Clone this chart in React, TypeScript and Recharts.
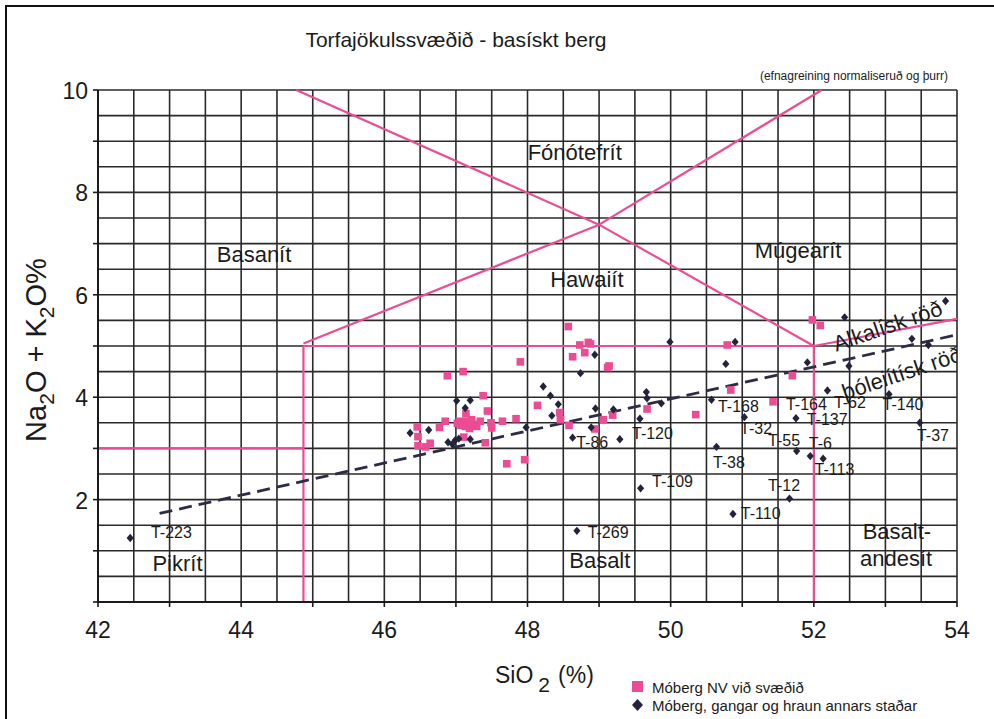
import React from 'react';
import { ScatterChart, Scatter, XAxis, YAxis, CartesianGrid, ReferenceLine } from 'recharts';

// ---------- axis ticks ----------
const xGridTicks = [42, 42.5, 43, 43.5, 44, 44.5, 45, 45.5, 46, 46.5, 47, 47.5, 48, 48.5, 49, 49.5, 50, 50.5, 51, 51.5, 52, 52.5, 53, 53.5, 54];
const yGridTicks = [0, 0.5, 1, 1.5, 2, 2.5, 3, 3.5, 4, 4.5, 5, 5.5, 6, 6.5, 7, 7.5, 8, 8.5, 9, 9.5, 10];
const xTickLabels = [42, 44, 46, 48, 50, 52, 54];
const yTickLabels = [2, 4, 6, 8, 10];

// ---------- series: Móberg NV við svæðið (pink squares) ----------
const mobergNV = [
  { x: 48.57, y: 5.38 }, { x: 47.90, y: 4.69 }, { x: 46.88, y: 4.42 }, { x: 47.10, y: 4.50 },
  { x: 47.38, y: 4.03 }, { x: 47.44, y: 3.73 }, { x: 47.14, y: 3.68 }, { x: 46.85, y: 3.53 },
  { x: 46.77, y: 3.41 }, { x: 46.46, y: 3.42 }, { x: 46.47, y: 3.23 }, { x: 46.47, y: 3.05 },
  { x: 46.64, y: 3.10 }, { x: 46.58, y: 3.03 }, { x: 47.02, y: 3.49 }, { x: 47.07, y: 3.45 },
  { x: 47.13, y: 3.43 }, { x: 47.19, y: 3.39 }, { x: 47.24, y: 3.47 }, { x: 47.29, y: 3.43 },
  { x: 47.34, y: 3.53 }, { x: 47.22, y: 3.56 }, { x: 47.05, y: 3.53 }, { x: 47.15, y: 3.53 },
  { x: 47.49, y: 3.50 }, { x: 47.50, y: 3.40 }, { x: 47.65, y: 3.53 }, { x: 47.84, y: 3.58 },
  { x: 47.11, y: 3.22 }, { x: 47.41, y: 3.11 }, { x: 47.71, y: 2.70 }, { x: 47.96, y: 2.78 },
  { x: 48.14, y: 3.84 }, { x: 48.45, y: 3.70 }, { x: 48.46, y: 3.56 }, { x: 48.58, y: 3.45 },
  { x: 48.73, y: 5.02 }, { x: 48.85, y: 5.07 }, { x: 48.88, y: 5.04 }, { x: 48.63, y: 4.79 },
  { x: 48.80, y: 4.87 }, { x: 49.12, y: 4.58 }, { x: 49.14, y: 4.61 }, { x: 48.94, y: 3.38 },
  { x: 49.06, y: 3.56 }, { x: 49.19, y: 3.65 }, { x: 49.67, y: 3.77 }, { x: 50.35, y: 3.66 },
  { x: 50.79, y: 5.02 }, { x: 50.84, y: 4.14 }, { x: 51.43, y: 3.91 }, { x: 51.70, y: 4.42 },
  { x: 51.98, y: 5.51 }, { x: 52.09, y: 5.40 },
];

// ---------- series: Móberg, gangar og hraun annars staðar (dark diamonds) ----------
const mobergOther = [
  { x: 42.45, y: 1.25 }, { x: 48.69, y: 1.39 }, { x: 46.36, y: 3.30 }, { x: 46.62, y: 3.36 },
  { x: 46.89, y: 3.12 }, { x: 46.95, y: 3.08 }, { x: 46.99, y: 3.16 }, { x: 47.04, y: 3.19 },
  { x: 47.01, y: 3.93 }, { x: 47.20, y: 3.94 }, { x: 47.13, y: 3.79 }, { x: 47.20, y: 3.18 },
  { x: 47.98, y: 3.41 }, { x: 48.22, y: 4.21 }, { x: 48.32, y: 4.03 }, { x: 48.43, y: 3.86 },
  { x: 48.34, y: 3.64 }, { x: 48.63, y: 3.21 }, { x: 48.89, y: 3.41 }, { x: 48.95, y: 3.78 },
  { x: 48.94, y: 4.83 }, { x: 48.74, y: 4.47 }, { x: 49.20, y: 3.76 }, { x: 49.29, y: 3.18 },
  { x: 49.57, y: 3.58 }, { x: 49.66, y: 4.10 }, { x: 49.67, y: 3.98 }, { x: 49.87, y: 3.88 },
  { x: 49.99, y: 5.08 }, { x: 49.58, y: 2.22 }, { x: 50.57, y: 3.95 }, { x: 50.64, y: 3.03 },
  { x: 50.77, y: 4.65 }, { x: 50.90, y: 5.08 }, { x: 51.03, y: 3.61 }, { x: 50.87, y: 1.72 },
  { x: 51.66, y: 2.02 }, { x: 51.75, y: 3.59 }, { x: 51.76, y: 2.95 }, { x: 51.95, y: 2.85 },
  { x: 52.13, y: 2.80 }, { x: 51.91, y: 4.68 }, { x: 52.19, y: 4.13 }, { x: 52.43, y: 5.56 },
  { x: 52.49, y: 4.61 }, { x: 53.05, y: 4.06 }, { x: 53.48, y: 3.50 }, { x: 53.37, y: 5.14 },
  { x: 53.60, y: 5.02 }, { x: 53.84, y: 5.88 },
];

// ---------- sample labels ----------
const sampleLabels = [
  { x: 42.74, y: 1.35, text: 'T-223' }, { x: 48.84, y: 1.35, text: 'T-269' },
  { x: 48.68, y: 3.11, text: 'T-86' }, { x: 49.46, y: 3.30, text: 'T-120' },
  { x: 49.74, y: 2.36, text: 'T-109' }, { x: 50.66, y: 3.81, text: 'T-168' },
  { x: 50.97, y: 3.38, text: 'T-32' }, { x: 50.59, y: 2.73, text: 'T-38' },
  { x: 51.61, y: 3.85, text: 'T-164' }, { x: 52.28, y: 3.89, text: 'T-62' },
  { x: 52.96, y: 3.85, text: 'T-140' }, { x: 51.90, y: 3.57, text: 'T-137' },
  { x: 51.36, y: 3.16, text: 'T-55' }, { x: 51.93, y: 3.09, text: 'T-6' },
  { x: 52.01, y: 2.58, text: 'T-113' }, { x: 51.36, y: 2.27, text: 'T-12' },
  { x: 50.98, y: 1.72, text: 'T-110' }, { x: 53.44, y: 3.26, text: 'T-37' },
];

// ---------- rock-field names ----------
const fieldNames = [
  { x: 48.66, y: 8.77, text: 'Fónótefrít' }, { x: 48.83, y: 6.29, text: 'Hawaiít' },
  { x: 44.18, y: 6.78, text: 'Basanít' }, { x: 51.78, y: 6.87, text: 'Múgearít' },
  { x: 43.11, y: 0.76, text: 'Pikrít' }, { x: 49.01, y: 0.82, text: 'Basalt' },
  { x: 53.16, y: 1.37, text: 'Basalt-' }, { x: 53.15, y: 0.84, text: 'andesít' },
];
const seriesNames = [
  { x: 53.03, y: 5.39, text: 'Alkalísk röð' },
  { x: 53.23, y: 4.47, text: 'þóleiítísk röð' },
];
const seriesNameAngles = [-19, -18.5];

// ---------- classification boundaries ----------
const boundaryLines = [
  [{ x: 42, y: 3 }, { x: 44.87, y: 3 }],
  [{ x: 44.87, y: 0 }, { x: 44.87, y: 5.0 }],
  [{ x: 44.87, y: 5.0 }, { x: 52, y: 5.0 }],
  [{ x: 52, y: 0 }, { x: 52, y: 5.0 }],
  [{ x: 52, y: 5.0 }, { x: 54, y: 5.53 }],
  [{ x: 44.87, y: 5.05 }, { x: 49.0, y: 7.37 }],
  [{ x: 49.0, y: 7.37 }, { x: 52.11, y: 10 }],
  [{ x: 44.77, y: 10 }, { x: 49.0, y: 7.37 }],
  [{ x: 49.0, y: 7.37 }, { x: 52, y: 5.0 }],
];
const seriesDivider = [{ x: 42.86, y: 1.73 }, { x: 54, y: 5.22 }];

const FONT = '"Liberation Sans", Arial, Helvetica, sans-serif';
const PINK = '#ec4c93';
const INK = '#1b1b1b';
const NAVY = '#23243a';

const XTick = (props: any) => {
  const { x, y, payload } = props;
  const v = payload.value;
  return (
    <g>
      {Number.isInteger(v) && <line x1={x} x2={x} y1={y} y2={y + 5} stroke={INK} strokeWidth={1.6} />}
      {xTickLabels.includes(v) && (
        <text x={x} y={y + 28} textAnchor="middle" dominantBaseline="central" fontSize={23} fill={INK} fontFamily={FONT}>
          {v}
        </text>
      )}
    </g>
  );
};

const YTick = (props: any) => {
  const { x, y, payload } = props;
  const v = payload.value;
  return (
    <g>
      {Number.isInteger(v) && <line x1={x - 5} x2={x} y1={y} y2={y} stroke={INK} strokeWidth={1.6} />}
      {yTickLabels.includes(v) && (
        <text x={x - 10} y={y + 1} textAnchor="end" dominantBaseline="central" fontSize={23} fill={INK} fontFamily={FONT}>
          {v}
        </text>
      )}
    </g>
  );
};

const Square = (props: any) => {
  const { cx, cy } = props;
  return <rect x={cx - 3.8} y={cy - 3.8} width={7.6} height={7.6} fill={PINK} />;
};
const Diamond = (props: any) => {
  const { cx, cy } = props;
  return <polygon points={`${cx},${cy - 4.2} ${cx + 3.6},${cy} ${cx},${cy + 4.2} ${cx - 3.6},${cy}`} fill={NAVY} />;
};
const SampleText = (props: any) => {
  const { cx, cy, payload } = props;
  return (
    <text x={cx} y={cy} textAnchor="start" dominantBaseline="central" fontSize={16} fill={INK} fontFamily={FONT}>
      {payload.text}
    </text>
  );
};
const FieldText = (props: any) => {
  const { cx, cy, payload } = props;
  return (
    <text x={cx} y={cy} textAnchor="middle" dominantBaseline="central" fontSize={22} fill={INK} fontFamily={FONT}>
      {payload.text}
    </text>
  );
};
const SeriesText = (props: any) => {
  const { cx, cy, payload, index } = props;
  const idx = seriesNames.findIndex((s) => s.text === payload.text);
  const angle = seriesNameAngles[idx >= 0 ? idx : index] ?? -19;
  return (
    <text x={cx} y={cy} textAnchor="middle" dominantBaseline="central" fontSize={22} fill={INK} fontFamily={FONT}
      transform={`rotate(${angle}, ${cx}, ${cy})`}>
      {payload.text}
    </text>
  );
};

export default function App() {
  return (
    <div style={{ position: 'fixed', left: 0, top: 0, width: 994, height: 719, background: '#fff', overflow: 'hidden', fontFamily: FONT }}>
      <div style={{ position: 'absolute', left: 5, top: 5, width: 1010, height: 740, border: '2px solid #111', boxSizing: 'border-box' }} />
      <div style={{ position: 'absolute', left: 0, top: 0 }}>
        <ScatterChart width={994} height={719} margin={{ top: 90, right: 37, bottom: 87, left: 38 }}>
          <CartesianGrid stroke="#2a2a2a" strokeWidth={1.6} />
          <XAxis type="number" dataKey="x" domain={[42, 54]} ticks={xGridTicks} interval={0}
            tick={<XTick />} tickLine={false} tickSize={0} tickMargin={0} height={30}
            axisLine={{ stroke: INK, strokeWidth: 2 }} allowDataOverflow />
          <YAxis type="number" dataKey="y" domain={[0, 10]} ticks={yGridTicks} interval={0}
            tick={<YTick />} tickLine={false} tickSize={0} tickMargin={0} width={60}
            axisLine={{ stroke: INK, strokeWidth: 2 }} allowDataOverflow />
          {boundaryLines.map((seg, i) => (
            <ReferenceLine key={i} segment={seg} stroke={PINK} strokeWidth={2.2} ifOverflow="visible" />
          ))}
          <ReferenceLine segment={seriesDivider} stroke="#2c2d45" strokeWidth={2.8} strokeDasharray="13 7" ifOverflow="visible" />
          <Scatter name="Móberg NV við svæðið" data={mobergNV} shape={<Square />} isAnimationActive={false} />
          <Scatter name="Móberg, gangar og hraun annars staðar" data={mobergOther} shape={<Diamond />} isAnimationActive={false} />
          <Scatter name="labels" data={sampleLabels} shape={<SampleText />} isAnimationActive={false} legendType="none" />
          <Scatter name="fields" data={fieldNames} shape={<FieldText />} isAnimationActive={false} legendType="none" />
          <Scatter name="series" data={seriesNames} shape={<SeriesText />} isAnimationActive={false} legendType="none" />
        </ScatterChart>
      </div>
      <svg width={994} height={719} style={{ position: 'absolute', left: 0, top: 0, pointerEvents: 'none' }} fontFamily={FONT}>
        <text x={456} y={39} textAnchor="middle" dominantBaseline="central" fontSize={21} fill={INK}>
          Torfajökulssvæðið - basískt berg
        </text>
        <text x={948} y={76} textAnchor="end" dominantBaseline="central" fontSize={12} fill={INK}>
          (efnagreining normaliseruð og þurr)
        </text>
        <text transform="translate(46,350) rotate(-90)" textAnchor="middle" fontSize={29} fill={INK}>
          Na<tspan dy={8} fontSize={21}>2</tspan><tspan dy={-8}>O + K</tspan><tspan dy={8} fontSize={21}>2</tspan><tspan dy={-8}>O%</tspan>
        </text>
        <text x={495} y={683} textAnchor="start" fontSize={23} fill={INK}>
          SiO<tspan dx={5} dy={9} fontSize={21}>2</tspan><tspan dx={8} dy={-9}>(%)</tspan>
        </text>
        <rect x={632} y={681} width={11} height={11} fill={PINK} />
        <text x={652} y={687} dominantBaseline="central" fontSize={15} fill={INK}>Móberg NV við svæðið</text>
        <polygon points="637.5,699 643,705 637.5,711 632,705" fill={NAVY} />
        <text x={652} y={705} dominantBaseline="central" fontSize={15} fill={INK}>Móberg, gangar og hraun annars staðar</text>
      </svg>
    </div>
  );
}
